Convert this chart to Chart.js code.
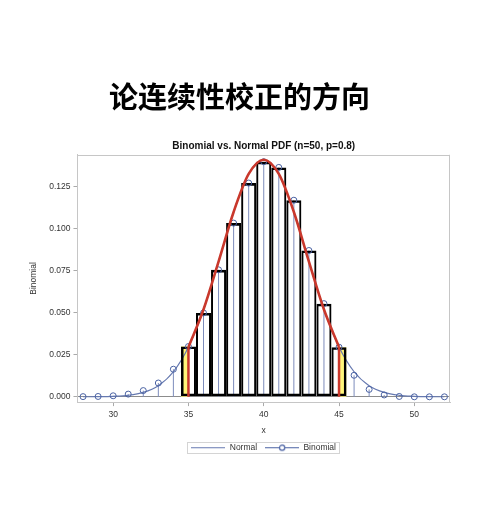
<!DOCTYPE html>
<html>
<head>
<meta charset="utf-8">
<script src="https://cdn.jsdelivr.net/npm/chart.js@4/dist/chart.umd.min.js"></script>
<style>
  html, body { margin: 0; padding: 0; background: #fff; }
  #wrap { width: 500px; height: 524px; }
</style>
</head>
<body>
<div id="wrap"><canvas id="c" width="500" height="524"></canvas></div>
<script>
// ---- data ----
const xValues = [28,29,30,31,32,33,34,35,36,37,38,39,40,41,42,43,44,45,46,47,48,49,50,51,52];
const binomialPdf = [0.0001,0.0002,0.0006,0.0016,0.0037,0.0082,0.0164,0.0299,0.0499,0.0755,0.1033,0.1271,0.1398,0.1364,0.1169,0.0870,0.0554,0.0295,0.0128,0.0044,0.0011,0.0002,0.0000,0.0000,0.0000];
const normalPdf = [0.00002,0.00007,0.0003,0.0009,0.0026,0.0066,0.0149,0.0296,0.0519,0.0804,0.1099,0.1325,0.1410,0.1325,0.1099,0.0804,0.0519,0.0296,0.0149,0.0066,0.0026,0.0009,0.0003,0.00007,0.00002];
const correctionLow = 35;
const correctionHigh = 45;
const xTicks = [30,35,40,45,50];
const yTicks = [0,0.025,0.05,0.075,0.1,0.125];
const mainTitle = '论连续性校正的方向';
const chartTitle = 'Binomial vs. Normal PDF (n=50, p=0.8)';
const legendNames = ['Normal', 'Binomial'];

// ---- derived ----
const pts = (ys) => xValues.map((x, i) => ({x, y: ys[i]}));
const valAt = (ys, x) => ys[xValues.indexOf(x)];
const inRange = (p) => p.x >= correctionLow && p.x <= correctionHigh;
const barData = pts(binomialPdf).filter(inRange);
const redCurve = pts(normalPdf).filter(inRange);
const needleData = [];
xValues.forEach((x, i) => { needleData.push({x, y: 0}, {x, y: binomialPdf[i]}, {x, y: null}); });
const redVerticals = [
  {x: correctionLow, y: 0}, {x: correctionLow, y: valAt(normalPdf, correctionLow)}, {x: correctionLow, y: null},
  {x: correctionHigh, y: 0}, {x: correctionHigh, y: valAt(normalPdf, correctionHigh)}
];
const yellowLow = [{x: correctionLow - 0.5, y: valAt(binomialPdf, correctionLow)}, {x: correctionLow, y: valAt(binomialPdf, correctionLow)}];
const yellowHigh = [{x: correctionHigh, y: valAt(binomialPdf, correctionHigh)}, {x: correctionHigh + 0.5, y: valAt(binomialPdf, correctionHigh)}];

// ---- styles ----
const BLUE_LINE = '#6679b0';
const BLUE_MARK = '#4a62a3';
const NEEDLE = '#7d8cbc';
const RED = '#c9382c';
const YELLOW = '#fff57a';
const FRAME = '#c6c6c6';
const TXT = '#333333';
Chart.defaults.font.family = '"Liberation Sans", Arial, sans-serif';
Chart.defaults.color = TXT;

function legendIcon(withMarker) {
  const c = document.createElement('canvas');
  c.width = 34; c.height = 9;
  const g = c.getContext('2d');
  g.strokeStyle = withMarker ? BLUE_MARK : BLUE_LINE;
  g.lineWidth = 1.2;
  g.beginPath(); g.moveTo(0, 4.5); g.lineTo(34, 4.5); g.stroke();
  if (withMarker) {
    g.fillStyle = '#fff';
    g.beginPath(); g.arc(17, 4.5, 2.6, 0, Math.PI * 2); g.fill(); g.stroke();
  }
  return c;
}
const legendIcons = [legendIcon(false), legendIcon(true)];

const framePlugin = {
  id: 'frames',
  afterDraw(chart) {
    const {ctx, chartArea: a} = chart;
    ctx.save();
    ctx.strokeStyle = FRAME; ctx.lineWidth = 1;
    ctx.beginPath();
    ctx.moveTo(a.left, Math.round(a.top) + 0.5); ctx.lineTo(a.right, Math.round(a.top) + 0.5);
    ctx.moveTo(Math.round(a.right) - 0.5, a.top); ctx.lineTo(Math.round(a.right) - 0.5, a.bottom);
    ctx.stroke();
    const hb = chart.legend && chart.legend.legendHitBoxes;
    if (hb && hb.length) {
      let l = Infinity, r = -Infinity, t = Infinity, b = -Infinity;
      hb.forEach(h => { l = Math.min(l, h.left); r = Math.max(r, h.left + h.width); t = Math.min(t, h.top); b = Math.max(b, h.top + h.height); });
      ctx.strokeStyle = '#d4d4d4';
      ctx.strokeRect(Math.round(l - 4) + 0.5, Math.round(t - 1) + 0.5, Math.round(r - l + 8), Math.round(b - t + 2));
    }
    ctx.restore();
  }
};

const lastBar = barData.length - 1;
new Chart(document.getElementById('c'), {
  type: 'bar',
  data: {
    datasets: [
      {
        label: 'Bars', type: 'bar', data: barData, order: 4,
        backgroundColor: 'rgba(255,255,255,0)', borderColor: '#000',
        borderSkipped: false, inflateAmount: 0,
        borderWidth: (ctx) => ({left: ctx.dataIndex === 0 ? 2.6 : 2, right: ctx.dataIndex === lastBar ? 2.6 : 2, top: 2.6, bottom: 2.6}),
        barPercentage: 1, categoryPercentage: 1
      },
      { label: 'YellowLow', type: 'line', data: yellowLow, order: 8, fill: 'origin', backgroundColor: YELLOW, borderWidth: 0, pointRadius: 0 },
      { label: 'YellowHigh', type: 'line', data: yellowHigh, order: 8, fill: 'origin', backgroundColor: YELLOW, borderWidth: 0, pointRadius: 0 },
      { label: 'Needles', type: 'line', data: needleData, order: 6, borderColor: NEEDLE, borderWidth: 1, pointRadius: 0, spanGaps: false, tension: 0 },
      { label: 'Normal', type: 'line', data: pts(normalPdf), order: 5, borderColor: BLUE_LINE, borderWidth: 1.2, pointRadius: 0, cubicInterpolationMode: 'monotone' },
      { label: 'Binomial', type: 'line', data: pts(binomialPdf), order: 3, showLine: false, pointStyle: 'circle', pointRadius: 3, borderColor: BLUE_MARK, backgroundColor: 'rgba(255,255,255,0)', borderWidth: 1 },
      { label: 'RedVert', type: 'line', data: redVerticals, order: 2, borderColor: RED, borderWidth: 2.5, pointRadius: 0, spanGaps: false, tension: 0 },
      { label: 'RedCurve', type: 'line', data: redCurve, order: 1, borderColor: RED, borderWidth: 2.6, pointRadius: 0, cubicInterpolationMode: 'monotone' }
    ]
  },
  options: {
    responsive: false,
    animation: false,
    events: [],
    layout: { padding: { left: 29, right: 50, top: 0, bottom: 62 } },
    scales: {
      x: {
        type: 'linear', min: 27.63, max: 52.37, offset: false,
        afterBuildTicks: (s) => { s.ticks = xTicks.map(v => ({value: v})); },
        grid: { display: true, offset: false, drawOnChartArea: false, drawTicks: true, tickLength: 4, tickColor: '#aaa' },
        border: { display: true, color: FRAME },
        ticks: { font: { size: 8.5 }, color: TXT, padding: 3, maxRotation: 0 },
        title: { display: true, text: 'x', font: { size: 8.5 }, color: TXT, padding: { top: 3, bottom: 0 } }
      },
      y: {
        type: 'linear', min: -0.00315, max: 0.1439,
        afterBuildTicks: (s) => { s.ticks = yTicks.map(v => ({value: v})); },
        grid: { display: true, drawOnChartArea: true, drawTicks: true, tickLength: 4,
                color: (c) => (c.tick && c.tick.value === 0) ? '#8c8c8c' : 'rgba(0,0,0,0)', tickColor: '#aaa' },
        border: { display: true, color: FRAME },
        ticks: { font: { size: 8.5 }, color: TXT, padding: 3, callback: (v) => Number(v).toFixed(3) },
        title: { display: true, text: 'Binomial', font: { size: 8.5 }, color: TXT, padding: { top: 0, bottom: 7 } }
      }
    },
    plugins: {
      tooltip: { enabled: false },
      title: {
        display: true, text: mainTitle, color: '#000',
        font: { family: '"Noto Sans CJK SC", sans-serif', size: 29, weight: 'bold' },
        padding: { top: 80, bottom: 14 }
      },
      subtitle: {
        display: true, text: chartTitle, color: '#111', fullSize: false,
        font: { size: 10, weight: 'bold' },
        padding: { top: 11, bottom: 3 }
      },
      legend: {
        position: 'bottom', fullSize: false,
        labels: {
          generateLabels: (chart) => legendNames.map((name, i) => ({
            text: name, pointStyle: legendIcons[i], fontColor: TXT, hidden: false,
            lineWidth: 0, strokeStyle: 'rgba(0,0,0,0)', fillStyle: 'rgba(0,0,0,0)',
            datasetIndex: chart.data.datasets.findIndex(d => d.label === name)
          })),
          usePointStyle: true, pointStyleWidth: 34, boxHeight: 9,
          font: { size: 8.5 }, color: TXT, padding: 8
        }
      }
    }
  },
  plugins: [framePlugin]
});
</script>
</body>
</html>
